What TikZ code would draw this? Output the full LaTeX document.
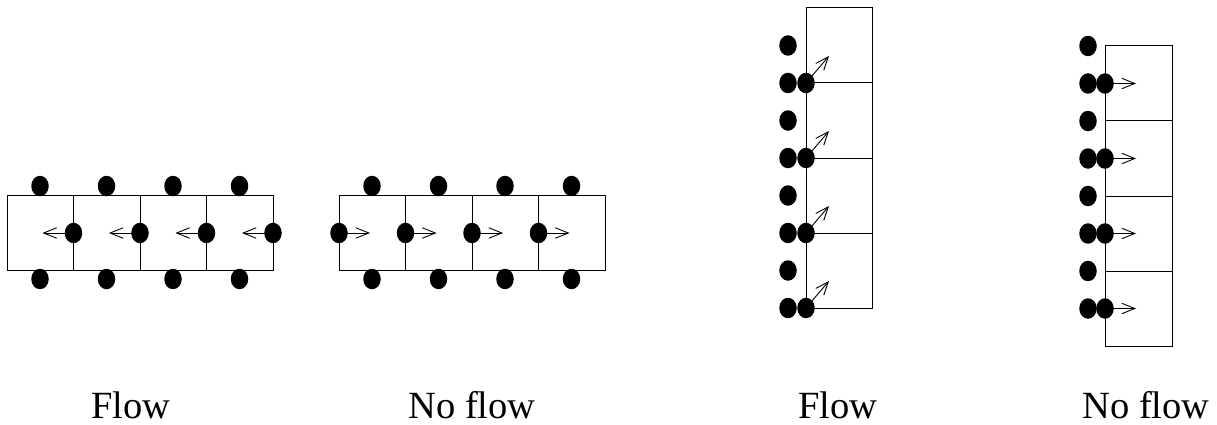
\documentclass[tikz,border=0pt]{standalone}
\usepackage{fontspec}
\setmainfont{Liberation Serif}
\usetikzlibrary{shapes.geometric,arrows.meta}
\begin{document}
\begin{tikzpicture}[x=1pt,y=-1pt,
  cellline/.style={line width=1pt},
  dot/.style={ellipse,fill=black,inner sep=0pt,minimum width=17.5pt,minimum height=20.5pt},
  flowarrow/.style={line width=0.9pt,-{Straight Barb[length=13pt,width=10.5pt,line width=0.9pt]}},
  caption/.style={anchor=base,font=\fontsize{38.5}{40}\selectfont,inner sep=0pt}]
\useasboundingbox (0,0) rectangle (1217,425);

% ---- horizontal chain, flow ----
\draw[cellline] (7,195) rectangle (273,270);
\foreach \i in {1,2,3} \draw[cellline] (7+66.5*\i,195) -- (7+66.5*\i,270);
\foreach \i in {0,...,3} {
  \node[dot] (at\i) at (40+66.5*\i,186) {};
  \node[dot] (ab\i) at (40+66.5*\i,279) {};
  \node[dot] (am\i) at (73.5+66.5*\i,233) {};
  \coordinate (ah\i) at (42.5+66.5*\i,233);
  \draw[flowarrow] (am\i.center) -- (ah\i);
}

% ---- horizontal chain, no flow ----
\draw[cellline] (339,195) rectangle (605,270);
\foreach \i in {1,2,3} \draw[cellline] (339+66.5*\i,195) -- (339+66.5*\i,270);
\foreach \i in {0,...,3} {
  \node[dot] (bt\i) at (372+66.5*\i,186) {};
  \node[dot] (bb\i) at (372+66.5*\i,279) {};
  \node[dot] (bm\i) at (339+66.5*\i,233) {};
  \coordinate (bh\i) at (370+66.5*\i,233);
  \draw[flowarrow] (bm\i.center) -- (bh\i);
}

% ---- vertical chain, flow ----
\draw[cellline] (806,8) rectangle (872,308);
\foreach \i in {1,2,3} \draw[cellline] (806,8+75*\i) -- (872,8+75*\i);
\foreach \i in {0,...,3} {
  \node[dot] (cs\i) at (788,45.5+75*\i) {};
  \node[dot] (co\i) at (788,83+75*\i) {};
  \node[dot] (ci\i) at (806,83+75*\i) {};
  \coordinate (ch\i) at (829,56+75*\i);
  \draw[flowarrow] (ci\i.center) -- (ch\i);
}

% ---- vertical chain, no flow ----
\draw[cellline] (1105,46) rectangle (1172,346);
\foreach \i in {1,2,3} \draw[cellline] (1105,46+75*\i) -- (1172,46+75*\i);
\foreach \i in {0,...,3} {
  \node[dot] (ds\i) at (1088,46+75*\i) {};
  \node[dot] (do\i) at (1088,83.5+75*\i) {};
  \node[dot] (di\i) at (1105,83.5+75*\i) {};
  \coordinate (dh\i) at (1136,83.5+75*\i);
  \draw[flowarrow] (di\i.center) -- (dh\i);
}

% ---- captions ----
\node[caption] (l1) at (131,418) {Flow};
\node[caption] (l2) at (472,418) {No flow};
\node[caption] (l3) at (838,418) {Flow};
\node[caption] (l4) at (1146,418) {No flow};
\end{tikzpicture}
\end{document}
